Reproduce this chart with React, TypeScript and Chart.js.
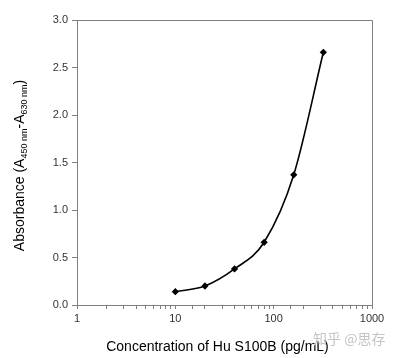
import React, { useEffect, useRef } from "react";
import { Chart, registerables } from "chart.js";

Chart.register(...registerables);

const concentrations = [10, 20, 40, 80, 160, 320];
const absorbance = [0.14, 0.2, 0.38, 0.66, 1.37, 2.66];
const yTicks = [0, 0.5, 1.0, 1.5, 2.0, 2.5, 3.0];
const xMajorTicks = [1, 10, 100, 1000];
const xTitle = "Concentration of Hu S100B (pg/mL)";
const watermark = "知乎 @思存";

const FONT = "'Liberation Sans', Arial, sans-serif";

const decorPlugin = {
  id: "decor",
  beforeDatasetsDraw(chart: any) {
    const { ctx, chartArea } = chart;
    ctx.save();
    ctx.strokeStyle = "#7f7f7f";
    ctx.lineWidth = 1;
    ctx.beginPath();
    ctx.moveTo(chartArea.left, chartArea.top + 0.5);
    ctx.lineTo(chartArea.right + 0.5, chartArea.top + 0.5);
    ctx.lineTo(chartArea.right + 0.5, chartArea.bottom);
    ctx.stroke();
    ctx.restore();
  },
  afterDraw(chart: any) {
    const { ctx, chartArea } = chart;
    ctx.save();
    // x title
    ctx.fillStyle = "#000";
    ctx.font = `14px ${FONT}`;
    ctx.textAlign = "center";
    ctx.textBaseline = "middle";
    ctx.fillText(xTitle, (chartArea.left + chartArea.right) / 2 - 7, chartArea.bottom + 42);

    // y title with subscripts
    const parts: [string, boolean][] = [
      ["Absorbance (A", false],
      ["450 nm", true],
      ["-A", false],
      ["630 nm", true],
      [")", false],
    ];
    const mainFont = `14px ${FONT}`;
    const subFont = `9px ${FONT}`;
    let total = 0;
    for (const [t, sub] of parts) {
      ctx.font = sub ? subFont : mainFont;
      total += ctx.measureText(t).width;
    }
    ctx.translate(19, (chartArea.top + chartArea.bottom) / 2 + 3);
    ctx.rotate(-Math.PI / 2);
    ctx.textAlign = "left";
    ctx.textBaseline = "alphabetic";
    let x = -total / 2;
    for (const [t, sub] of parts) {
      ctx.font = sub ? subFont : mainFont;
      ctx.fillText(t, x, sub ? 8 : 5);
      x += ctx.measureText(t).width;
    }
    ctx.restore();

    // watermark
    ctx.save();
    ctx.fillStyle = "#c4c4c4";
    ctx.font = `14px 'Noto Sans CJK SC', sans-serif`;
    ctx.textAlign = "left";
    ctx.textBaseline = "middle";
    ctx.fillText(watermark, 313, 339);
    ctx.restore();
  },
};

export default function App() {
  const ref = useRef<HTMLCanvasElement | null>(null);
  useEffect(() => {
    document.body.style.margin = "0";
    const chart = new Chart(ref.current as HTMLCanvasElement, {
      type: "line",
      data: {
        datasets: [
          {
            data: concentrations.map((c, i) => ({ x: c, y: absorbance[i] })),
            borderColor: "#000",
            backgroundColor: "#000",
            borderWidth: 1.6,
            pointRadius: 2.5,
            pointStyle: "rectRot",
            cubicInterpolationMode: "monotone",
          },
        ],
      },
      options: {
        animation: false,
        responsive: false,
        devicePixelRatio: 1,
        layout: { padding: { left: 0, top: 20, right: 22, bottom: 0 } },
        plugins: { legend: { display: false }, tooltip: { enabled: false } },
        scales: {
          x: {
            type: "logarithmic",
            min: 1,
            max: 1000,
            afterFit(scale: any) {
              scale.height = 53;
            },
            border: { display: true, color: "#7f7f7f", width: 1 },
            grid: {
              drawOnChartArea: false,
              drawTicks: true,
              tickLength: 4,
              tickColor: "#7f7f7f",
            },
            ticks: {
              autoSkip: false,
              maxRotation: 0,
              padding: 3,
              color: "#333",
              font: { family: FONT, size: 11 },
              callback: (v: any) => (xMajorTicks.includes(Number(v)) ? String(v) : ""),
            },
          },
          y: {
            min: 0,
            max: 3,
            afterFit(scale: any) {
              scale.width = 77;
            },
            afterBuildTicks(scale: any) {
              scale.ticks = yTicks.map((v) => ({ value: v }));
            },
            border: { display: true, color: "#7f7f7f", width: 1 },
            grid: {
              drawOnChartArea: false,
              drawTicks: true,
              tickLength: 5,
              tickColor: "#7f7f7f",
            },
            ticks: {
              padding: 4,
              color: "#333",
              font: { family: FONT, size: 11 },
              callback: (v: any) => Number(v).toFixed(1),
            },
          },
        },
      },
      plugins: [decorPlugin],
    } as any);
    return () => chart.destroy();
  }, []);
  return <canvas ref={ref} width={394} height={358} style={{ display: "block" }} />;
}
